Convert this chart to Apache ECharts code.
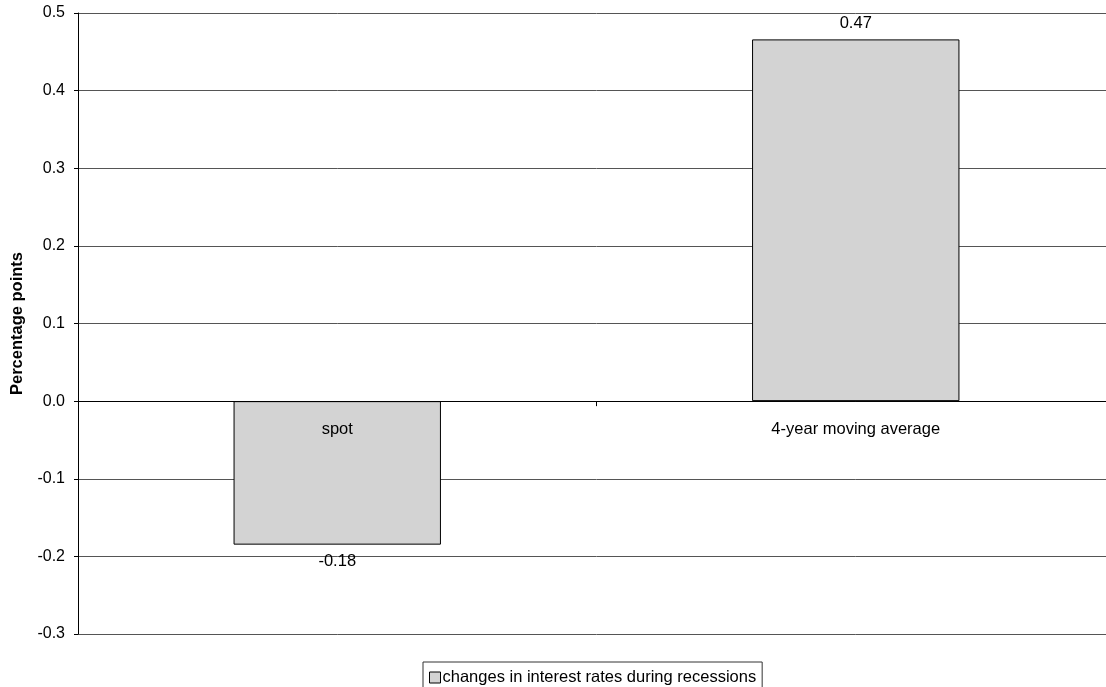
<!DOCTYPE html>
<html>
<head>
<meta charset="utf-8">
<script src="https://cdn.jsdelivr.net/npm/echarts@6/dist/echarts.min.js"></script>
<style>
  html, body { margin: 0; padding: 0; background: #fff; overflow: hidden; }
  #chart { width: 1116px; height: 687px; }
</style>
</head>
<body>
<div id="chart"></div>
<script>
// Average change in interest rates during recessions, by measure
const categories = ['spot', '4-year moving average'];
const seriesName = 'changes in interest rates during recessions';
const values = [-0.1849, 0.466];
const labelPositions = ['bottom', 'top'];
const yTicks = { min: -0.3, max: 0.5, interval: 0.1 };
const yAxisTitle = 'Percentage points';

const FONT = 'Liberation Sans, Arial, sans-serif';

const chart = echarts.init(document.getElementById('chart'), null, { renderer: 'canvas' });

chart.setOption({
  animation: false,
  backgroundColor: '#ffffff',
  grid: { left: 78, top: 13, width: 1037, height: 621, containLabel: false },
  legend: {
    top: 662,
    left: 423,
    data: [seriesName],
    icon: 'rect',
    itemWidth: 11,
    itemHeight: 11,
    itemGap: 4,
    padding: [7, 6, 10, 6],
    borderColor: '#333',
    borderWidth: 1,
    textStyle: { fontFamily: FONT, fontSize: 16.5, color: '#000', padding: [0, 0, 0, -3] },
    itemStyle: { borderColor: '#000', borderWidth: 1 }
  },
  xAxis: {
    type: 'category',
    z: 5,
    data: categories,
    axisLine: { onZero: true, lineStyle: { color: '#000', width: 1 } },
    axisTick: { show: true, alignWithLabel: false, length: 5, inside: false, lineStyle: { color: '#000' } },
    axisLabel: { fontFamily: FONT, fontSize: 16.5, color: '#000', margin: -213 },
    splitLine: { show: false }
  },
  yAxis: {
    type: 'value',
    min: yTicks.min,
    max: yTicks.max,
    interval: yTicks.interval,
    name: yAxisTitle,
    nameLocation: 'middle',
    nameGap: 52,
    nameRotate: 90,
    nameTextStyle: { fontFamily: FONT, fontSize: 16.5, fontWeight: 'bold', color: '#000' },
    axisLine: { show: true, lineStyle: { color: '#000', width: 1 } },
    axisTick: { show: true, length: 4, lineStyle: { color: '#000' } },
    axisLabel: {
      fontFamily: FONT, fontSize: 16, color: '#000', margin: 13,
      formatter: v => v.toFixed(1)
    },
    splitLine: { show: true, lineStyle: { color: '#555', width: 1 } }
  },
  series: [{
    name: seriesName,
    type: 'bar',
    barWidth: '40%',
    data: values.map((v, i) => ({
      value: v,
      label: { position: labelPositions[i], distance: labelPositions[i] === 'top' ? 7 : 8 }
    })),
    itemStyle: { color: '#d3d3d3', borderColor: '#000', borderWidth: 1 },
    label: {
      show: true,
      fontFamily: FONT,
      fontSize: 16.5,
      color: '#000',
      formatter: p => p.value.toFixed(2)
    }
  }]
});
</script>
</body>
</html>
